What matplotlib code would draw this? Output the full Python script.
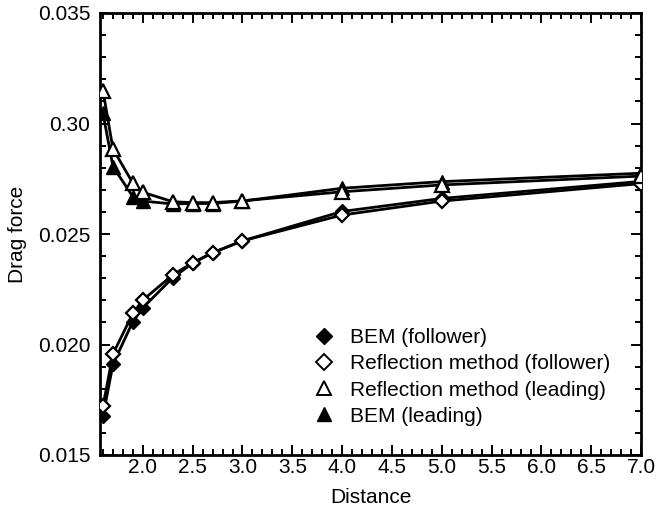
import matplotlib
matplotlib.use("Agg")
import matplotlib.pyplot as plt
from matplotlib.ticker import MultipleLocator, FixedLocator
from matplotlib.lines import Line2D

plt.rcParams['font.family'] = ['Liberation Sans', 'DejaVu Sans']

distance = [1.6, 1.7, 1.9, 2.0, 2.3, 2.5, 2.7, 3.0, 4.0, 5.0, 7.0]
bem_follower = [0.01675, 0.01910, 0.02104, 0.02166, 0.02302, 0.02368, 0.02415, 0.02469, 0.02602, 0.02661, 0.02738]
refl_follower = [0.01722, 0.01957, 0.02141, 0.02201, 0.02315, 0.02370, 0.02415, 0.02469, 0.02586, 0.02649, 0.02728]
refl_leading = [0.03148, 0.02885, 0.02730, 0.02689, 0.02646, 0.02642, 0.02642, 0.02650, 0.02691, 0.02722, 0.02762]
bem_leading = [0.03046, 0.02805, 0.02669, 0.02649, 0.02636, 0.02638, 0.02638, 0.02649, 0.02707, 0.02737, 0.02775]

labels = ['BEM (follower)', 'Reflection method (follower)',
          'Reflection method (leading)', 'BEM (leading)']
xticks = [2.0, 2.5, 3.0, 3.5, 4.0, 4.5, 5.0, 5.5, 6.0, 6.5, 7.0]
xtick_labels = ["2.0", "2.5", "3.0", "3.5", "4.0", "4.5", "5.0", "5.5", "6.0", "6.5", "7.0"]
yticks = [0.015, 0.020, 0.025, 0.030, 0.035]
ytick_labels = ["0.015", "0.020", "0.025", "0.30", "0.035"]

fs = 15

fig = plt.figure(figsize=(6.6, 5.09), dpi=100)
ax = fig.add_axes([100/660, 54/509, 541/660, 442/509])

lw = 2.0
ax.plot(distance, bem_follower, color='black', lw=lw, marker='D', ms=7.5,
        mfc='black', mec='black', zorder=3)
ax.plot(distance, refl_follower, color='black', lw=lw, marker='D', ms=7.5,
        mfc='white', mec='black', mew=1.6, zorder=4)
ax.plot(distance, refl_leading, color='black', lw=lw, marker='^', ms=9.5,
        mfc='white', mec='black', mew=1.6, zorder=4)
ax.plot(distance, bem_leading, color='black', lw=lw, marker='^', ms=9.5,
        mfc='black', mec='black', zorder=3)

ax.set_xlim(1.57, 7.0)
ax.set_ylim(0.015, 0.035)
ax.xaxis.set_major_locator(FixedLocator(xticks))
ax.set_xticklabels(xtick_labels)
ax.xaxis.set_minor_locator(MultipleLocator(0.1))
ax.yaxis.set_major_locator(FixedLocator(yticks))
ax.set_yticklabels(ytick_labels)
ax.yaxis.set_minor_locator(MultipleLocator(0.001))

ax.tick_params(which='both', direction='in', top=True, right=True, labelsize=fs, width=1.4)
ax.tick_params(which='major', length=7)
ax.tick_params(which='minor', length=4)
ax.tick_params(axis='x', which='major', pad=2)
ax.tick_params(axis='y', which='major', pad=7)
for s in ax.spines.values():
    s.set_linewidth(2.0)

ax.set_xlabel('Distance', fontsize=fs, labelpad=8)
ax.set_ylabel('Drag force', fontsize=fs, labelpad=8)

leg_handles = [
    Line2D([], [], ls='none', marker='D', ms=8, mfc='black', mec='black'),
    Line2D([], [], ls='none', marker='D', ms=8, mfc='white', mec='black', mew=1.4),
    Line2D([], [], ls='none', marker='^', ms=10, mfc='white', mec='black', mew=1.4),
    Line2D([], [], ls='none', marker='^', ms=10, mfc='black', mec='black'),
]
ax.legend(leg_handles, labels, loc='upper left', bbox_to_anchor=(0.376, 0.31),
          frameon=False, fontsize=fs, handlelength=1.0, handletextpad=0.75,
          labelspacing=0.34, borderpad=0)

fig.savefig('out.png', dpi=100)
